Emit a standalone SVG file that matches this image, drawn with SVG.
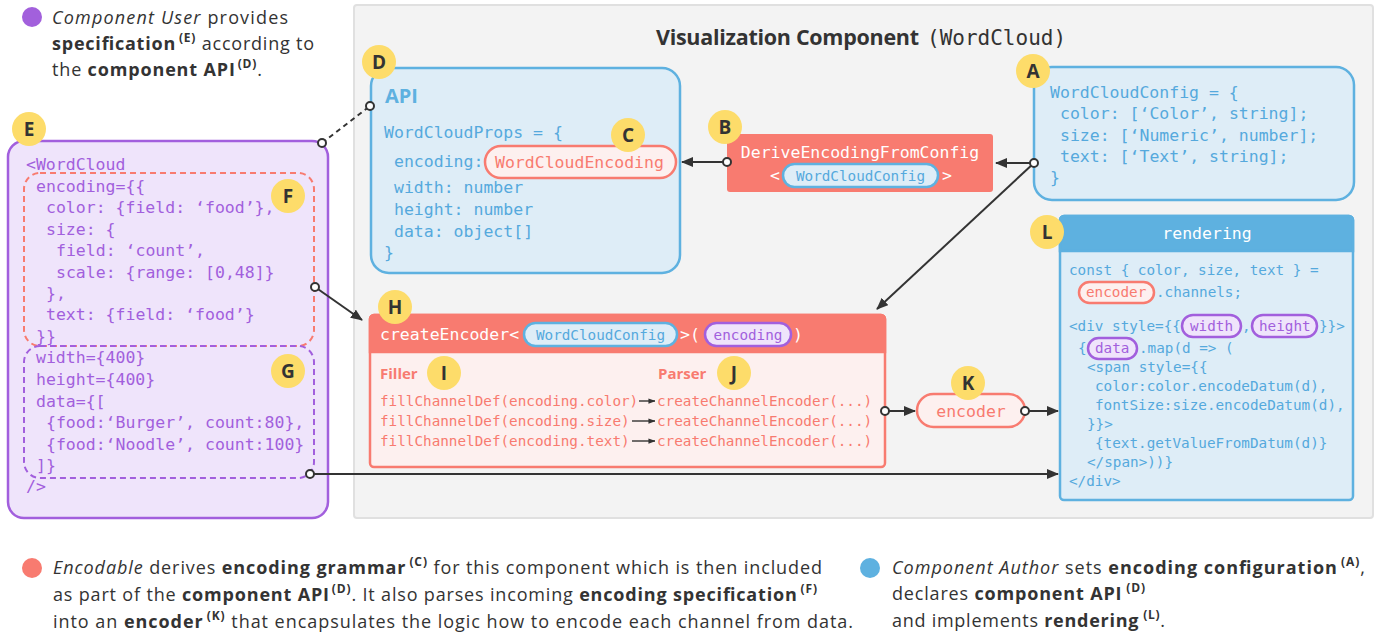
<svg xmlns="http://www.w3.org/2000/svg" width="1381" height="634" viewBox="0 0 1381 634">
<defs>
<style>
.sans{font-family:"Open Sans","Lato",sans-serif}
.mono{font-family:"DejaVu Sans Mono","Liberation Mono",monospace}
.c16{font-size:16.5px}
.c14{font-size:14.3px}
.pur{fill:#a25fdd}
.blu{fill:#55a9dd}
.sal{fill:#f87b70}
.wht{fill:#fff}
.b{font-weight:bold}
.i{font-style:italic}
.sup{font-size:12px;font-weight:bold}
.prose{font-size:18px;fill:#333}
.badge circle{fill:#fddc6a}
.badge text{font-family:"Open Sans","Lato",sans-serif;font-weight:bold;font-size:19px;fill:#333;text-anchor:middle}
.conn line{stroke:#333;stroke-width:2;fill:none}
.dot{fill:#fff;stroke:#333;stroke-width:2}
.bluebox{fill:#deedf7;stroke:#5eb1e0;stroke-width:2.5}
.salbox{fill:#fdf0ef;stroke:#f87b70;stroke-width:2.5}
.purbox{fill:#efe4fb;stroke:#a25fdd;stroke-width:2.5}
</style>
<marker id="arr" viewBox="0 0 12 10" refX="11" refY="5" markerWidth="12" markerHeight="10" markerUnits="userSpaceOnUse" orient="auto"><path d="M0,0 L12,5 L0,10 z" fill="#333"/></marker>
<marker id="arrs" viewBox="0 0 8 6" refX="7.5" refY="3" markerWidth="7" markerHeight="6" markerUnits="userSpaceOnUse" orient="auto"><path d="M0,0 L8,3 L0,6 z" fill="#333"/></marker>
</defs>

<g id="panel">
<rect x="354" y="5" width="1019" height="513" rx="3" fill="#f3f3f3" stroke="#e0e0e0" stroke-width="2"/>
<text x="656" y="45" class="sans b" font-size="21.5" fill="#333" textLength="263">Visualization Component</text>
<text x="927" y="45" class="mono" font-size="21" fill="#333">(WordCloud)</text>
</g>

<g id="legend-user">
<circle cx="32" cy="17" r="10" fill="#a260dc"/>
<text x="52" y="24" class="sans prose" textLength="236"><tspan class="i">Component User</tspan> provides</text>
<text x="52" y="50" class="sans prose" textLength="262"><tspan class="b">specification</tspan><tspan class="sup" dx="3" dy="-8">(E)</tspan><tspan dy="8"> according to</tspan></text>
<text x="52" y="76" class="sans prose" textLength="210">the <tspan class="b">component API</tspan><tspan class="sup" dx="2" dy="-8">(D)</tspan><tspan dy="8">.</tspan></text>
</g>

<g id="legend-encodable">
<circle cx="32" cy="568" r="10" fill="#f87b70"/>
<text x="53" y="574" class="sans prose" textLength="769"><tspan class="i">Encodable</tspan> derives <tspan class="b">encoding grammar</tspan><tspan class="sup" dx="3" dy="-8">(C)</tspan><tspan dy="8"> for this component which is then included</tspan></text>
<text x="53" y="601" class="sans prose" textLength="764">as part of the <tspan class="b">component API</tspan><tspan class="sup" dx="2" dy="-8">(D)</tspan><tspan dy="8">. It also parses incoming </tspan><tspan class="b">encoding specification</tspan><tspan class="sup" dx="3" dy="-8">(F)</tspan></text>
<text x="53" y="628" class="sans prose" textLength="800">into an <tspan class="b">encoder</tspan><tspan class="sup" dx="3" dy="-8">(K)</tspan><tspan dy="8">  that encapsulates the logic how to encode each channel from data.</tspan></text>
</g>

<g id="legend-author">
<circle cx="870" cy="568" r="10" fill="#5eb1e0"/>
<text x="892" y="574" class="sans prose" textLength="473"><tspan class="i">Component Author</tspan> sets <tspan class="b">encoding configuration</tspan><tspan class="sup" dx="3" dy="-8">(A)</tspan><tspan dy="8">,</tspan></text>
<text x="892" y="600" class="sans prose" textLength="253">declares <tspan class="b">component API</tspan><tspan class="sup" dx="4" dy="-8">(D)</tspan></text>
<text x="892" y="627" class="sans prose" textLength="273">and implements <tspan class="b">rendering</tspan><tspan class="sup" dx="4" dy="-8">(L)</tspan><tspan dy="8">.</tspan></text>
</g>

<g id="node-E">
<rect x="8" y="141" width="320" height="377" rx="16" class="purbox"/>
<rect x="24" y="173" width="290" height="173" rx="16" fill="none" stroke="#f87b70" stroke-width="2" stroke-dasharray="6 4"/>
<rect x="24" y="346" width="290" height="132" rx="16" fill="none" stroke="#a25fdd" stroke-width="2" stroke-dasharray="6 4"/>
<g class="mono c16 pur">
<text x="26" y="170">&lt;WordCloud</text>
<text x="36" y="192">encoding={{</text>
<text x="46" y="213">color: {field: ‘food’},</text>
<text x="46" y="235">size: {</text>
<text x="56" y="256">field: ‘count’,</text>
<text x="56" y="278">scale: {range: [0,48]}</text>
<text x="46" y="299">},</text>
<text x="46" y="320">text: {field: ‘food’}</text>
<text x="36" y="342">}}</text>
<text x="36" y="363">width={400}</text>
<text x="36" y="385">height={400}</text>
<text x="36" y="407">data={[</text>
<text x="46" y="428">{food:‘Burger’, count:80},</text>
<text x="46" y="450">{food:‘Noodle’, count:100}</text>
<text x="36" y="471">]}</text>
<text x="26" y="492">/&gt;</text>
</g>
<g class="badge"><circle cx="29" cy="129" r="17"/><text x="29" y="136">E</text></g>
<g class="badge"><circle cx="288" cy="196" r="17"/><text x="288" y="203">F</text></g>
<g class="badge"><circle cx="288" cy="371" r="17"/><text x="288" y="378">G</text></g>
</g>

<g id="node-D">
<rect x="371" y="68" width="309" height="205" rx="18" class="bluebox"/>
<text x="385" y="103" class="sans b" font-size="20" fill="#5eb1e0">API</text>
<g class="mono c16 blu">
<text x="384" y="138">WordCloudProps = {</text>
<text x="394" y="167">encoding:</text>
<text x="394" y="193">width: number</text>
<text x="394" y="215">height: number</text>
<text x="394" y="237">data: object[]</text>
<text x="384" y="258">}</text>
</g>
<rect x="485" y="146" width="191" height="32" rx="16" class="salbox"/>
<text x="495" y="168" class="mono c16 sal">WordCloudEncoding</text>
<g class="badge"><circle cx="379" cy="62" r="17"/><text x="379" y="69">D</text></g>
<g class="badge"><circle cx="628" cy="135" r="17"/><text x="628" y="142">C</text></g>
</g>

<g id="node-B">
<rect x="727" y="134" width="266" height="58" rx="3" fill="#f87b70"/>
<text x="860" y="158" class="mono c16 wht" text-anchor="middle">DeriveEncodingFromConfig</text>
<text x="770" y="181" class="mono c16 wht">&lt;</text>
<rect x="783" y="164" width="155" height="23" rx="11.5" fill="#deedf7" stroke="#5eb1e0" stroke-width="2.5"/>
<text x="860.5" y="180.5" class="mono c14 blu" text-anchor="middle">WordCloudConfig</text>
<text x="942" y="181" class="mono c16 wht">&gt;</text>
<g class="badge"><circle cx="725" cy="127" r="17"/><text x="725" y="134">B</text></g>
</g>

<g id="node-A">
<rect x="1034" y="67" width="320" height="133" rx="18" class="bluebox"/>
<g class="mono c16 blu">
<text x="1050" y="98">WordCloudConfig = {</text>
<text x="1060" y="119">color: [‘Color’, string];</text>
<text x="1060" y="141">size: [‘Numeric’, number];</text>
<text x="1060" y="162">text: [‘Text’, string];</text>
<text x="1050" y="183">}</text>
</g>
<g class="badge"><circle cx="1033" cy="71" r="17"/><text x="1033" y="78">A</text></g>
</g>

<g id="node-H">
<rect x="370" y="315" width="515" height="152" rx="4" class="salbox"/>
<path d="M370,352 V319 a4,4 0 0 1 4,-4 H881 a4,4 0 0 1 4,4 V352 Z" fill="#f87b70" stroke="#f87b70" stroke-width="2.5"/>
<text x="380" y="340" class="mono c16 wht">createEncoder&lt;</text>
<rect x="524" y="323" width="153" height="23" rx="11.5" fill="#deedf7" stroke="#5eb1e0" stroke-width="2.5"/>
<text x="600.5" y="339.5" class="mono c14 blu" text-anchor="middle">WordCloudConfig</text>
<text x="680" y="340" class="mono c16 wht">&gt;(</text>
<rect x="705" y="323" width="86" height="23" rx="11.5" fill="#efe4fb" stroke="#a25fdd" stroke-width="2.5"/>
<text x="748" y="339.5" class="mono c14 pur" text-anchor="middle">encoding</text>
<text x="793" y="340" class="mono c16 wht">)</text>
<text x="380" y="379" class="sans b sal" font-size="15">Filler</text>
<text x="658" y="379" class="sans b sal" font-size="15">Parser</text>
<g class="mono c14 sal">
<text x="380" y="406">fillChannelDef(encoding.color)</text>
<text x="380" y="426">fillChannelDef(encoding.size)</text>
<text x="380" y="446">fillChannelDef(encoding.text)</text>
<text x="657" y="406">createChannelEncoder(...)</text>
<text x="657" y="426">createChannelEncoder(...)</text>
<text x="657" y="446">createChannelEncoder(...)</text>
</g>
<g stroke="#333" stroke-width="1.4">
<line x1="639" y1="401" x2="655" y2="401" marker-end="url(#arrs)"/>
<line x1="632" y1="421" x2="655" y2="421" marker-end="url(#arrs)"/>
<line x1="632" y1="441" x2="655" y2="441" marker-end="url(#arrs)"/>
</g>
<g class="badge"><circle cx="395" cy="307" r="17"/><text x="395" y="314">H</text></g>
<g class="badge"><circle cx="444" cy="373" r="17"/><text x="444" y="380">I</text></g>
<g class="badge"><circle cx="734" cy="373" r="17"/><text x="734" y="380">J</text></g>
</g>

<g id="node-K">
<rect x="917" y="394" width="108" height="33" rx="16.5" class="salbox"/>
<text x="971" y="417" class="mono c16 sal" text-anchor="middle">encoder</text>
<g class="badge"><circle cx="968" cy="383" r="17"/><text x="968" y="390">K</text></g>
</g>

<g id="node-L">
<rect x="1060" y="216" width="293" height="284" rx="4" class="bluebox"/>
<path d="M1060,251 V220 a4,4 0 0 1 4,-4 H1349 a4,4 0 0 1 4,4 V251 Z" fill="#5eb1e0" stroke="#5eb1e0" stroke-width="2.5"/>
<text x="1207" y="239" class="mono c16 wht" text-anchor="middle">rendering</text>
<rect x="1079" y="282" width="75" height="21" rx="10.5" class="salbox" stroke-width="2.2"/>
<rect x="1182" y="315" width="59" height="22" rx="11" class="purbox" stroke-width="2.2"/>
<rect x="1252" y="315" width="65" height="22" rx="11" class="purbox" stroke-width="2.2"/>
<rect x="1088" y="338" width="49" height="21" rx="10.5" class="purbox" stroke-width="2.2"/>
<g class="mono c14 blu">
<text x="1069" y="275">const { color, size, text } =</text>
<text x="1156" y="297">.channels;</text>
<text x="1069" y="331">&lt;div style={{</text>
<text x="1242" y="331">,</text>
<text x="1319" y="331">}}&gt;</text>
<text x="1078" y="353">{</text>
<text x="1139" y="353">.map(d =&gt; (</text>
<text x="1087" y="372">&lt;span style={{</text>
<text x="1095" y="391">color:color.encodeDatum(d),</text>
<text x="1095" y="410">fontSize:size.encodeDatum(d),</text>
<text x="1087" y="429">}}&gt;</text>
<text x="1095" y="448">{text.getValueFromDatum(d)}</text>
<text x="1087" y="467">&lt;/span&gt;))}</text>
<text x="1069" y="486">&lt;/div&gt;</text>
</g>
<text x="1086" y="297" class="mono c14 sal">encoder</text>
<g class="mono c14 pur">
<text x="1190" y="331">width</text>
<text x="1259" y="331">height</text>
<text x="1095" y="353">data</text>
</g>
<g class="badge"><circle cx="1047" cy="232" r="17"/><text x="1047" y="239">L</text></g>
</g>

<g id="connectors" class="conn">
<line x1="322" y1="143" x2="370" y2="106" stroke-dasharray="5 4"/>
<line x1="315" y1="287" x2="362" y2="320" marker-end="url(#arr)"/>
<line x1="310" y1="474" x2="1058" y2="474" marker-end="url(#arr)"/>
<line x1="727" y1="162" x2="682" y2="162" marker-end="url(#arr)"/>
<line x1="1034" y1="163" x2="996" y2="163" marker-end="url(#arr)"/>
<line x1="1034" y1="163" x2="877" y2="309" marker-end="url(#arr)"/>
<line x1="885" y1="411" x2="915" y2="411" marker-end="url(#arr)"/>
<line x1="1025" y1="411" x2="1058" y2="411" marker-end="url(#arr)"/>
<circle cx="322" cy="143" r="4" class="dot"/>
<circle cx="370" cy="106" r="4" class="dot"/>
<circle cx="315" cy="287" r="4" class="dot"/>
<circle cx="310" cy="474" r="4" class="dot"/>
<circle cx="727" cy="162" r="4" class="dot"/>
<circle cx="1034" cy="163" r="4" class="dot"/>
<circle cx="885" cy="411" r="4" class="dot"/>
<circle cx="1025" cy="411" r="4" class="dot"/>
</g>
</svg>
